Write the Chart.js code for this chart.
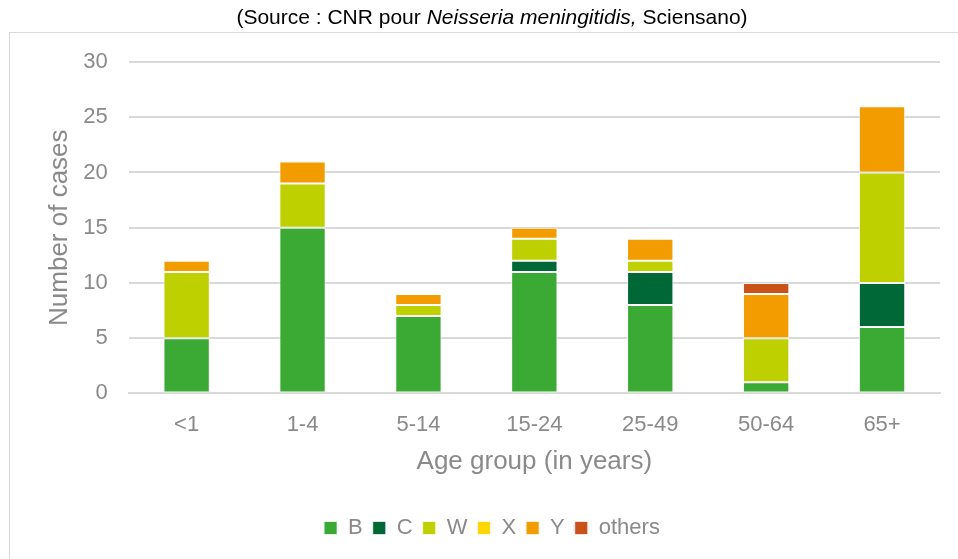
<!DOCTYPE html>
<html>
<head>
<meta charset="utf-8">
<script src="https://cdn.jsdelivr.net/npm/chart.js@4"></script>
<style>
  html, body { margin: 0; padding: 0; background: #fff; }
  #wrap { width: 958px; height: 559px; position: relative; }
</style>
</head>
<body>
<div id="wrap"><canvas id="chart"></canvas></div>
<script>
// Age groups and case counts per serogroup
const ageGroups = ['<1', '1-4', '5-14', '15-24', '25-49', '50-64', '65+'];
const casesB = [5, 15, 7, 11, 8, 1, 6];
const casesC = [0, 0, 0, 1, 3, 0, 4];
const casesW = [6, 4, 1, 2, 1, 4, 10];
const casesX = [0, 0, 0, 0, 0, 0, 0];
const casesY = [1, 2, 1, 1, 2, 4, 6];
const casesOthers = [0, 0, 0, 0, 0, 1, 0];
const yTicks = [0, 5, 10, 15, 20, 25, 30];

const grey = '#8a8a8a';
const fontFamily = '"Liberation Sans", Arial, sans-serif';

function series(label, data, color) {
    return {
        label: label,
        data: data,
        backgroundColor: color,
        borderColor: 'rgba(255,255,255,0.7)',
        borderWidth: 1,
        borderSkipped: false,
        barPercentage: 0.4,
        categoryPercentage: 1.0
    };
}

// Frame + source line drawn by hand (mixed italic text)
const framePlugin = {
    id: 'frame',
    beforeDraw(chart) {
        const ctx = chart.ctx;
        ctx.save();
        ctx.strokeStyle = '#d9d9d9';
        ctx.lineWidth = 1;
        ctx.strokeRect(9.5, 32.5, 960, 540);

        const parts = [
            { t: '(Source : CNR pour ', f: '21px ' + fontFamily },
            { t: 'Neisseria meningitidis,', f: 'italic 21px ' + fontFamily },
            { t: ' Sciensano)', f: '21px ' + fontFamily }
        ];
        let total = 0;
        parts.forEach(p => { ctx.font = p.f; total += ctx.measureText(p.t).width; });
        let x = 492 - total / 2;
        ctx.fillStyle = '#000';
        ctx.textBaseline = 'middle';
        parts.forEach(p => {
            ctx.font = p.f;
            ctx.fillText(p.t, x, 18);
            x += ctx.measureText(p.t).width;
        });
        ctx.restore();
    }
};

new Chart(document.getElementById('chart'), {
    type: 'bar',
    data: {
        labels: ageGroups,
        datasets: [
            series('B', casesB, '#3aaa35'),
            series('C', casesC, '#006837'),
            series('W', casesW, '#bed000'),
            series('X', casesX, '#ffd500'),
            series('Y', casesY, '#f39c00'),
            series('others', casesOthers, '#c9511a')
        ]
    },
    options: {
        responsive: true,
        maintainAspectRatio: false,
        animation: false,
        layout: { padding: { top: 62, right: 18, left: 44, bottom: 10 } },
        scales: {
            x: {
                stacked: true,
                grid: { display: false },
                border: { color: '#d9d9d9', width: 2 },
                ticks: { color: grey, font: { family: fontFamily, size: 22 }, padding: 10 },
                title: { display: true, text: 'Age group (in years)', color: grey, font: { family: fontFamily, size: 26 }, padding: { top: -2, bottom: 30 } }
            },
            y: {
                stacked: true,
                min: 0,
                max: 30,
                afterBuildTicks: axis => { axis.ticks = yTicks.map(v => ({ value: v })); },
                grid: { color: '#d9d9d9', lineWidth: 2, drawTicks: false },
                border: { display: false },
                ticks: { color: grey, font: { family: fontFamily, size: 22 }, padding: 21 },
                title: { display: true, text: 'Number of cases', color: grey, font: { family: fontFamily, size: 26 }, padding: { top: 0, bottom: -13 } }
            }
        },
        plugins: {
            legend: {
                position: 'bottom',
                labels: {
                    boxWidth: 13,
                    boxHeight: 13,
                    padding: 10,
                    color: grey,
                    font: { family: fontFamily, size: 22 }
                }
            },
            tooltip: { enabled: false }
        }
    },
    plugins: [framePlugin]
});
</script>
</body>
</html>
